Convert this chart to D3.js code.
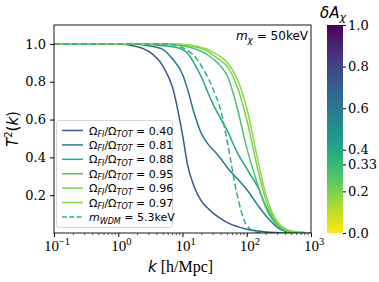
<!DOCTYPE html>
<html>
<head>
<meta charset="utf-8">
<script src="https://cdn.jsdelivr.net/npm/d3@7"></script>
<style>
  body { margin: 0; background: #fff; }
  svg { display: block; }
</style>
</head>
<body>
<svg id="chart" width="379" height="282"></svg>
<script>
// k grid in h/Mpc, shared by all curves
const kValues = [0.1, 1, 2, 3, 5, 7, 10, 12, 15, 20, 25, 30, 40, 50, 70, 100, 150, 200, 300, 500, 1000];

// T^2(k), one array per Omega_FI/Omega_TOT
const t2_040 = [1, 1, 0.985, 0.96, 0.88, 0.77, 0.52, 0.36, 0.25, 0.165, 0.13, 0.105, 0.075, 0.055, 0.035, 0.02, 0.01, 0.005, 0.002, 0, 0];
const t2_081 = [1, 1, 0.998, 0.99, 0.97, 0.92, 0.84, 0.76, 0.64, 0.52, 0.47, 0.44, 0.39, 0.345, 0.29, 0.23, 0.145, 0.09, 0.03, 0.003, 0];
const t2_088 = [1, 1, 1, 0.998, 0.99, 0.985, 0.97, 0.95, 0.9, 0.82, 0.74, 0.68, 0.6, 0.54, 0.43, 0.34, 0.24, 0.14, 0.045, 0.005, 0];
const t2_095 = [1, 1, 1, 1, 1, 0.998, 0.99, 0.985, 0.975, 0.96, 0.94, 0.92, 0.88, 0.83, 0.67, 0.45, 0.25, 0.13, 0.04, 0.005, 0];
const t2_096 = [1, 1, 1, 1, 1, 1, 0.995, 0.99, 0.985, 0.975, 0.96, 0.94, 0.91, 0.88, 0.78, 0.6, 0.33, 0.17, 0.05, 0.007, 0];
const t2_097 = [1, 1, 1, 1, 1, 1, 0.997, 0.995, 0.99, 0.98, 0.97, 0.955, 0.93, 0.9, 0.82, 0.66, 0.38, 0.2, 0.06, 0.01, 0];
const t2_wdm = [1, 1, 1, 1, 1, 0.995, 0.98, 0.965, 0.94, 0.88, 0.82, 0.76, 0.64, 0.48, 0.21, 0.04, 0.003, 0, 0, 0, 0];

const ratioLabels = ["0.40", "0.81", "0.88", "0.95", "0.96", "0.97"];
const deltaA = [0.73, 0.6, 0.4, 0.28, 0.2, 0.17];
const wdmDeltaA = 0.36;
const wdmLabel = "5.3keV";
const mChiLabel = "50keV";

const yTicks = [0.2, 0.4, 0.6, 0.8, 1.0];
const xTicks = [0.1, 1, 10, 100, 1000];
const xTickExp = ["\u22121", "0", "1", "2", "3"];
const cbTicks = [0.0, 0.2, 0.33, 0.4, 0.6, 0.8, 1.0];

const series = [t2_040, t2_081, t2_088, t2_095, t2_096, t2_097];

const svg = d3.select("#chart");
const margin = { left: 54, top: 25, right: 311, bottom: 233 };

const x = d3.scaleLog().domain([0.1, 1000]).range([margin.left, margin.right]);
const y = d3.scaleLinear().domain([0, 1.1]).range([margin.bottom, margin.top]);
const color = d3.scaleSequential(d3.interpolateViridis).domain([1, 0]);

const serif = "'Liberation Serif', 'Times New Roman', serif";
const dvSerif = "'DejaVu Serif', serif";
const sans = "'DejaVu Sans', sans-serif";

// clip so the lines stay inside the axes
svg.append("clipPath").attr("id", "plotclip")
  .append("rect")
  .attr("x", margin.left).attr("y", margin.top)
  .attr("width", margin.right - margin.left).attr("height", margin.bottom - margin.top);

const line = d3.line()
  .x((d, i) => x(kValues[i]))
  .y(d => y(d))
  .curve(d3.curveMonotoneX);

const plot = svg.append("g").attr("clip-path", "url(#plotclip)");

series.forEach((s, i) => {
  plot.append("path")
    .attr("d", line(s))
    .attr("fill", "none")
    .attr("stroke", color(deltaA[i]))
    .attr("stroke-width", 1.5);
});

plot.append("path")
  .attr("d", line(t2_wdm))
  .attr("fill", "none")
  .attr("stroke", color(wdmDeltaA))
  .attr("stroke-width", 1.5)
  .attr("stroke-dasharray", "6,3");

// axes
const xAxis = d3.axisBottom(x).tickValues(xTicks).tickSize(4).tickFormat("");
const gx = svg.append("g").attr("transform", `translate(0,${margin.bottom})`).call(xAxis);
gx.select(".domain").remove();

// minor log ticks
const minor = [];
for (let e = -1; e < 3; e++) for (let m = 2; m < 10; m++) minor.push(m * Math.pow(10, e));
gx.selectAll(".minor").data(minor).enter().append("line")
  .attr("x1", d => x(d)).attr("x2", d => x(d))
  .attr("y1", 0).attr("y2", 2.2)
  .attr("stroke", "#000").attr("stroke-width", 0.6);

gx.selectAll(".xlab").data(xTicks).enter().append("text")
  .attr("x", d => x(d) + 3).attr("y", 18)
  .attr("text-anchor", "middle")
  .attr("font-family", serif).attr("font-size", 15).attr("fill", "#000")
  .each(function(d, i) {
    const t = d3.select(this);
    t.append("tspan").text("10");
    t.append("tspan").attr("dy", -6).attr("font-size", 10.5).text(xTickExp[i]);
  });

const yAxis = d3.axisLeft(y).tickValues(yTicks).tickSize(4).tickFormat(d3.format(".1f"));
const gy = svg.append("g").attr("transform", `translate(${margin.left},0)`).call(yAxis);
gy.select(".domain").remove();
gy.selectAll("text").attr("font-family", dvSerif).attr("font-size", 13).attr("fill", "#000").attr("dx", -1);

// frame
svg.append("rect")
  .attr("x", margin.left).attr("y", margin.top)
  .attr("width", margin.right - margin.left).attr("height", margin.bottom - margin.top)
  .attr("fill", "none").attr("stroke", "#000").attr("stroke-width", 0.9);

// axis labels
const ylab = svg.append("text")
  .attr("transform", `translate(18,${(margin.top + margin.bottom) / 2}) rotate(-90)`)
  .attr("text-anchor", "middle").attr("font-family", sans).attr("font-size", 15).attr("fill", "#000");
ylab.append("tspan").attr("font-style", "italic").text("T");
ylab.append("tspan").attr("dy", -6).attr("font-size", 10).text("2");
ylab.append("tspan").attr("dy", 6).text("(");
ylab.append("tspan").attr("font-style", "italic").text("k");
ylab.append("tspan").text(")");

const xlab = svg.append("text")
  .attr("x", (margin.left + margin.right) / 2 - 2).attr("y", 272)
  .attr("text-anchor", "middle").attr("font-size", 16).attr("fill", "#000");
xlab.append("tspan").attr("font-family", sans).attr("font-style", "italic").attr("font-size", 15).text("k");
xlab.append("tspan").attr("font-family", serif).text(" [h/Mpc]");

// annotation
const ann = svg.append("text")
  .attr("x", 308).attr("y", 40).attr("text-anchor", "end")
  .attr("font-family", sans).attr("font-size", 12).attr("fill", "#000");
ann.append("tspan").attr("font-style", "italic").text("m");
ann.append("tspan").attr("font-style", "italic").attr("font-size", 9).attr("dy", 3).text("\u03c7");
ann.append("tspan").attr("dy", -3).text(" = " + mChiLabel);

// legend
const lg = svg.append("g");
lg.append("rect")
  .attr("x", 56.5).attr("y", 120.5).attr("width", 116).attr("height", 107).attr("rx", 2.5)
  .attr("fill", "#fff").attr("fill-opacity", 0.8)
  .attr("stroke", "#cccccc").attr("stroke-width", 0.8);

const rowY = d3.scaleLinear().domain([0, 6]).range([130.5, 217]);
const legendItems = ratioLabels.map((r, i) => ({ label: r, c: color(deltaA[i]), dash: null }));
legendItems.push({ label: null, c: color(wdmDeltaA), dash: "5,2.3" });

legendItems.forEach((it, i) => {
  const yy = rowY(i);
  lg.append("line")
    .attr("x1", 62).attr("x2", 83).attr("y1", yy).attr("y2", yy)
    .attr("stroke", it.c).attr("stroke-width", 1.5)
    .attr("stroke-dasharray", it.dash);
  const t = lg.append("text")
    .attr("x", 89).attr("y", yy + 4)
    .attr("font-family", sans).attr("font-size", 11).attr("fill", "#000");
  if (it.label) {
    t.append("tspan").text("\u03a9");
    t.append("tspan").attr("font-style", "italic").attr("font-size", 8).attr("dy", 2.5).text("FI");
    t.append("tspan").attr("dy", -2.5).text("/\u03a9");
    t.append("tspan").attr("font-style", "italic").attr("font-size", 8).attr("dy", 2.5).text("TOT");
    t.append("tspan").attr("dy", -2.5).text(" = " + it.label);
  } else {
    t.append("tspan").attr("font-style", "italic").text("m");
    t.append("tspan").attr("font-style", "italic").attr("font-size", 8).attr("dy", 2.5).text("WDM");
    t.append("tspan").attr("dy", -2.5).text(" = " + wdmLabel);
  }
});

// colorbar
const cb = { x: 327, w: 16, top: 25, bottom: 233 };
const cy = d3.scaleLinear().domain([0, 1]).range([cb.bottom, cb.top]);
const grad = svg.append("defs").append("linearGradient")
  .attr("id", "cbgrad").attr("x1", 0).attr("y1", 1).attr("x2", 0).attr("y2", 0);
d3.range(0, 1.0001, 0.05).forEach(t => {
  grad.append("stop").attr("offset", t).attr("stop-color", color(t));
});
svg.append("rect")
  .attr("x", cb.x).attr("y", cb.top).attr("width", cb.w).attr("height", cb.bottom - cb.top)
  .attr("fill", "url(#cbgrad)");

const cAxis = d3.axisRight(cy).tickValues(cbTicks).tickSize(3)
  .tickFormat(d => d === 0.33 ? "0.33" : d3.format(".1f")(d));
const gc = svg.append("g").attr("transform", `translate(${cb.x + cb.w},0)`).call(cAxis);
gc.select(".domain").remove();
gc.selectAll("text").attr("font-family", dvSerif).attr("font-size", 13).attr("fill", "#000").attr("dx", -1);

const cbl = svg.append("text")
  .attr("x", 320).attr("y", 18)
  .attr("font-family", sans).attr("font-size", 15).attr("font-style", "italic").attr("fill", "#000");
cbl.append("tspan").text("\u03b4A");
cbl.append("tspan").attr("font-size", 11).attr("dy", 3).text("\u03c7");
</script>
</body>
</html>
